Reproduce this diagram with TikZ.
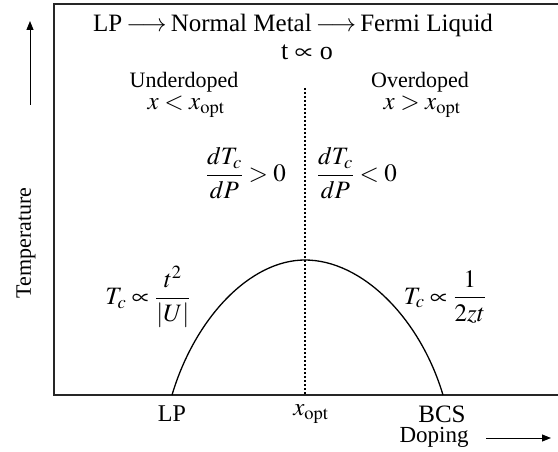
\documentclass[tikz,border=0pt]{standalone}
\usepackage{amsmath}
\usepackage{mathptmx}
\usepackage{fontspec}
\setmainfont{Liberation Serif}
\usetikzlibrary{arrows.meta,positioning}
\begin{document}
\begin{tikzpicture}[x=1pt,y=-1pt,every node/.style={font=\fontsize{22}{26}\selectfont,inner sep=0pt},
 mathlabel/.style={font=\fontsize{25}{30}\selectfont},
 frameline/.style={line width=1.4pt,black!85},
 axisarrow/.style={-{Triangle[length=9pt,width=7pt]},line width=1pt}]
\useasboundingbox (0,0) rectangle (558,452);
% frame: top, left and bottom edges
\coordinate (tl) at (54,4); \coordinate (tr) at (558,4);
\coordinate (bl) at (54,395); \coordinate (br) at (558,395);
\draw[frameline] (tr) -- (tl) -- (bl) -- (br);
% optimal doping divider
\coordinate (divtop) at (305,88); \coordinate (divbot) at (305,395);
\draw[line width=1.3pt,dash pattern=on 2pt off 2pt] (divtop) -- (divbot);
% Tc dome
\coordinate (lp) at (172,395); \coordinate (peak) at (305,260); \coordinate (bcs) at (443,395);
\draw[line width=1.3pt] (lp) .. controls (195,318) and (250,260) .. (peak)
 .. controls (362,260) and (420,318) .. (bcs);
% axis labels
\coordinate (tfoot) at (30,105); \coordinate (thead) at (30,21);
\draw[axisarrow] (tfoot) -- (thead);
\node[rotate=90] (temp) at (26,243) {Temperature};
\node[font=\fontsize{23}{28}\selectfont] (dop) at (434,437) {Doping};
\coordinate (dfoot) at (486,438); \coordinate (dhead) at (551,438);
\draw[axisarrow] (dfoot) -- (dhead);
% texts
\node[font=\fontsize{25}{30}\selectfont] (flow) at (293,25) {LP\,$\longrightarrow$\,Normal Metal\,$\longrightarrow$\,Fermi Liquid};
\node[font=\fontsize{26}{30}\selectfont] (tprop) at (307,52) {t $\propto$ o};
\node (under) at (184,82) {Underdoped};
\node[mathlabel] (underx) at (186,107) {$x<x_{\mathrm{opt}}$};
\node (over) at (420,82) {Overdoped};
\node[mathlabel] (overx) at (422,107) {$x>x_{\mathrm{opt}}$};
\node[mathlabel] (dpos) at (246,173) {$\dfrac{dT_c}{dP}>0$};
\node[mathlabel] (dneg) at (357,173) {$\dfrac{dT_c}{dP}<0$};
\node[mathlabel] (tcl) at (148,297) {$T_c\propto\dfrac{t^2}{|U|}$};
\node[mathlabel] (tcr) at (445,297) {$T_c\propto\dfrac{1}{2zt}$};
\node[font=\fontsize{24}{28}\selectfont] (lplab) at (172,414) {LP};
\node[mathlabel] (xlab) at (311,414) {$x_{\mathrm{opt}}$};
\node[font=\fontsize{25}{30}\selectfont] (bcslab) at (442,414) {BCS};
\end{tikzpicture}
\end{document}
